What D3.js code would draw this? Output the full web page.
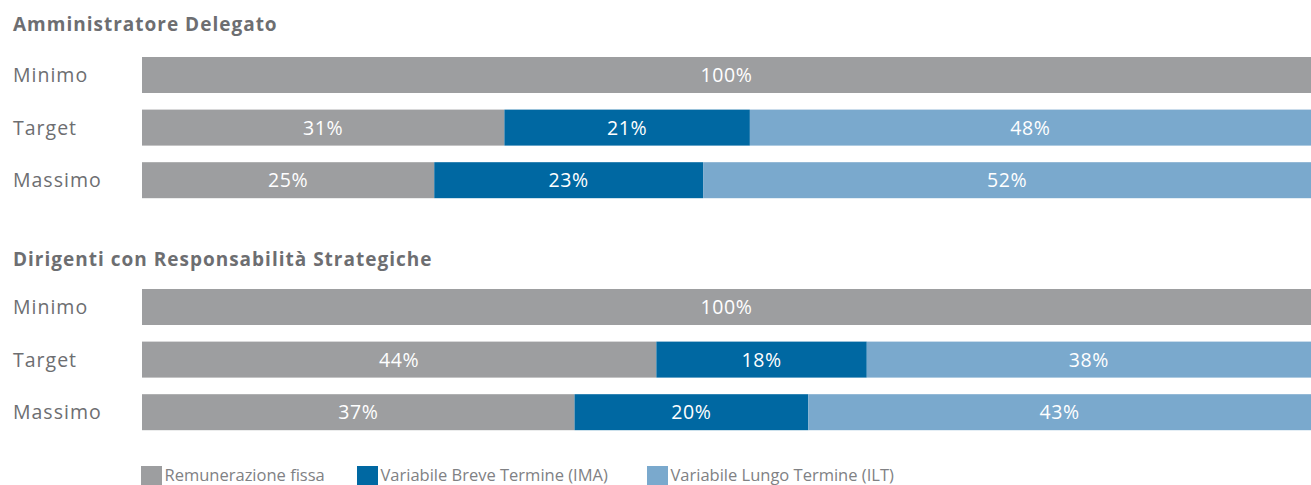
<!DOCTYPE html>
<html>
<head>
<meta charset="utf-8">
<script src="https://cdn.jsdelivr.net/npm/d3@7"></script>
<style>
  html, body { margin: 0; padding: 0; background: #fff; }
  svg { display: block; }
</style>
</head>
<body>
<svg id="chart" width="1311" height="485"></svg>
<script>
// Pay-mix composition (percent of total remuneration)
const groupTitles = ["Amministratore Delegato", "Dirigenti con Responsabilità Strategiche"];
const levels = ["Minimo", "Target", "Massimo"];
const components = ["Remunerazione fissa", "Variabile Breve Termine (IMA)", "Variabile Lungo Termine (ILT)"];

// values per level: [fissa, IMA, ILT]
const adValues = [
  [100, 0, 0],
  [31, 21, 48],
  [25, 23, 52]
];
const drsValues = [
  [100, 0, 0],
  [44, 18, 38],
  [37, 20, 43]
];

const colors = ["#9d9ea0", "#0068a2", "#7aa9cd"];
const textColor = "#6d6e71";
const font = "'Open Sans', 'Noto Sans', sans-serif";

const svg = d3.select("#chart");

const x = d3.scaleLinear().domain([0, 100]).range([142, 1311]);
const color = d3.scaleOrdinal().domain(components).range(colors);

const groups = [
  { title: groupTitles[0], values: adValues, top: 57, titleY: 31 },
  { title: groupTitles[1], values: drsValues, top: 289, titleY: 265.5 }
];

groups.forEach(g => {
  const y = d3.scaleBand()
    .domain(levels)
    .range([g.top, g.top + 141.2])
    .paddingInner(0.3156)
    .paddingOuter(0);

  const gEl = svg.append("g");

  gEl.append("text")
    .attr("x", 13)
    .attr("y", g.titleY)
    .attr("font-family", font)
    .attr("font-weight", 700)
    .attr("font-size", 19)
    .attr("letter-spacing", 1.0)
    .attr("fill", textColor)
    .text(g.title);

  // stack the three components per level
  const rows = levels.map((lv, i) => {
    const obj = { level: lv };
    components.forEach((c, j) => obj[c] = g.values[i][j]);
    return obj;
  });
  const series = d3.stack().keys(components)(rows);

  gEl.selectAll("text.level")
    .data(levels)
    .join("text")
    .attr("class", "level")
    .attr("x", 13)
    .attr("y", d => y(d) + y.bandwidth() / 2)
    .attr("dy", "0.36em")
    .attr("font-family", font)
    .attr("font-size", 19.5)
    .attr("letter-spacing", 1.0)
    .attr("fill", textColor)
    .text(d => d);

  const layer = gEl.selectAll("g.layer")
    .data(series)
    .join("g")
    .attr("class", "layer")
    .attr("fill", d => color(d.key));

  layer.selectAll("rect")
    .data(d => d.filter(s => s[1] > s[0]))
    .join("rect")
    .attr("x", d => x(d[0]))
    .attr("y", d => y(d.data.level))
    .attr("width", d => x(d[1]) - x(d[0]))
    .attr("height", y.bandwidth());

  layer.selectAll("text")
    .data(d => d.filter(s => s[1] > s[0]))
    .join("text")
    .attr("x", d => (x(d[0]) + x(d[1])) / 2)
    .attr("y", d => y(d.data.level) + y.bandwidth() / 2)
    .attr("dy", "0.36em")
    .attr("text-anchor", "middle")
    .attr("font-family", font)
    .attr("font-size", 19.5)
    .attr("letter-spacing", 0.6)
    .attr("fill", "#ffffff")
    .text(d => (d[1] - d[0]) + "%");
});

// legend
const legendX = [141, 357, 647];
const legend = svg.append("g")
  .selectAll("g")
  .data(components)
  .join("g")
  .attr("transform", (d, i) => `translate(${legendX[i]},466)`);

legend.append("rect")
  .attr("width", 21)
  .attr("height", 21)
  .attr("fill", d => color(d));

legend.append("text")
  .attr("x", 23.5)
  .attr("y", 14.5)
  .attr("font-family", "'Open Sans', sans-serif")
  .attr("font-size", 16.5)
  .attr("fill", "#808184")
  .text(d => d);
</script>
</body>
</html>
